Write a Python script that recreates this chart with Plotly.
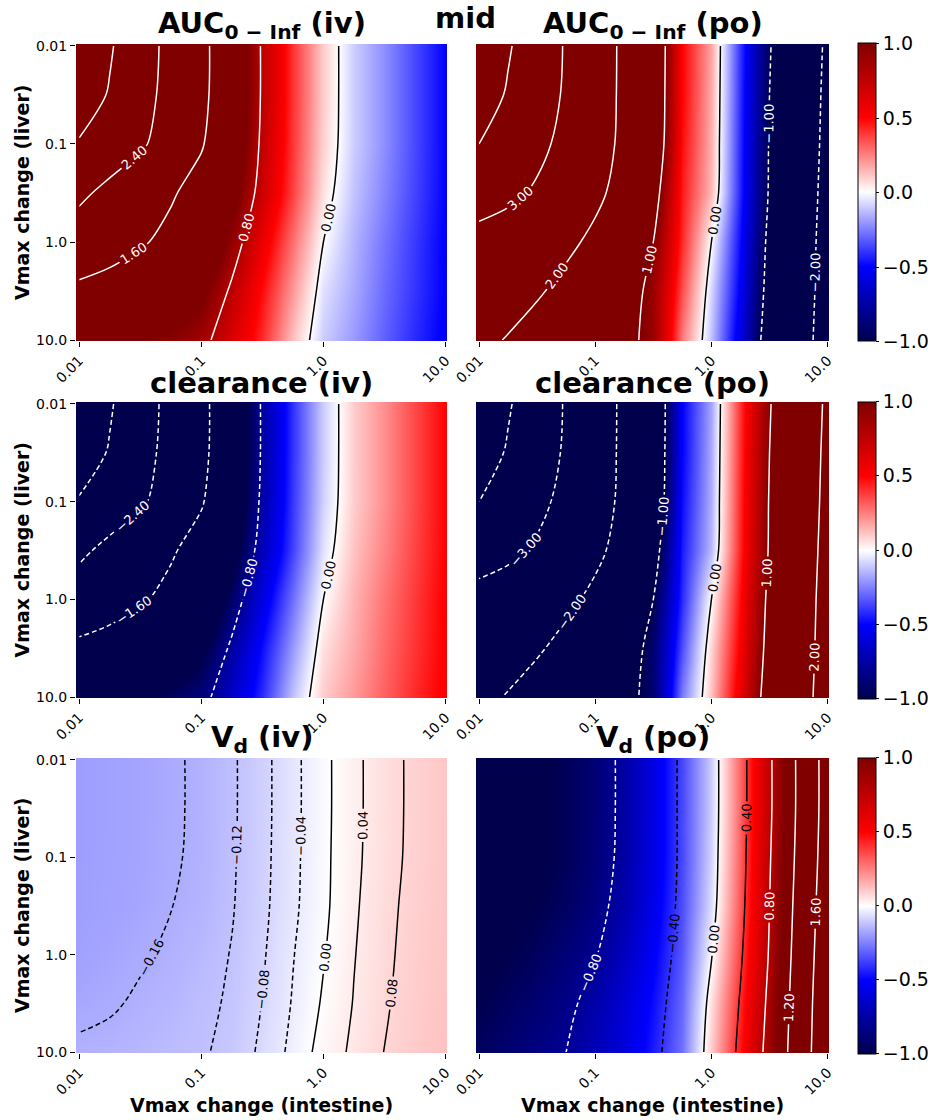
import plotly.graph_objects as go

# ---------------- data (log10 of the Vmax change factors) ----------------
XS = [-2.0, -1.75, -1.5, -1.25, -1.0, -0.75, -0.5, -0.25, 0.0, 0.25, 0.5, 0.75, 1.0]  # intestine
YS = [-2.0, -1.5, -1.0, -0.5, 0.0, 0.5, 1.0]  # liver
TICK_VALS = [-2, -1, 0, 1]
TICK_TEXT = ["0.01", "0.1", "1.0", "10.0"]
CBAR_VALS = [-1.0, -0.5, 0.0, 0.5, 1.0]
CBAR_TEXT = ["\u22121.0", "\u22120.5", "0.0", "0.5", "1.0"]

AUC_IV = [
    [3.8, 3.27, 2.72, 2.2, 1.73, 1.25, 0.77, 0.4, 0.1, -0.1, -0.22, -0.36, -0.5],
    [3.55, 3.15, 2.65, 2.18, 1.72, 1.24, 0.77, 0.4, 0.1, -0.1, -0.22, -0.36, -0.5],
    [3.15, 2.85, 2.5, 2.08, 1.64, 1.2, 0.75, 0.39, 0.09, -0.1, -0.22, -0.36, -0.5],
    [2.55, 2.2, 1.92, 1.65, 1.42, 1.1, 0.7, 0.37, 0.06, -0.12, -0.24, -0.37, -0.5],
    [2.0, 1.82, 1.65, 1.48, 1.3, 0.92, 0.58, 0.28, 0.0, -0.15, -0.27, -0.39, -0.51],
    [1.48, 1.4, 1.3, 1.2, 1.05, 0.76, 0.48, 0.2, -0.06, -0.17, -0.29, -0.4, -0.51],
    [1.1, 1.05, 1.0, 0.95, 0.87, 0.65, 0.42, 0.12, -0.1, -0.2, -0.31, -0.42, -0.52],
]
AUC_PO = [
    [4.66, 4.08, 3.5, 2.93, 2.4, 1.86, 1.35, 0.5, 0.18, -0.4, -0.97, -1.53, -2.1],
    [4.43, 3.92, 3.4, 2.9, 2.4, 1.85, 1.33, 0.5, 0.17, -0.41, -1.0, -1.57, -2.13],
    [4.0, 3.6, 3.2, 2.78, 2.35, 1.83, 1.3, 0.48, 0.16, -0.42, -1.02, -1.58, -2.16],
    [3.34, 3.17, 2.9, 2.6, 2.15, 1.75, 1.15, 0.45, 0.14, -0.43, -1.03, -1.6, -2.2],
    [2.75, 2.6, 2.42, 2.15, 1.85, 1.5, 1.0, 0.42, 0.0, -0.48, -1.08, -1.65, -2.23],
    [2.55, 2.35, 2.08, 1.8, 1.5, 1.18, 0.9, 0.35, -0.08, -0.52, -1.12, -1.68, -2.25],
    [2.2, 1.95, 1.7, 1.45, 1.25, 1.1, 0.9, 0.26, -0.12, -0.58, -1.18, -1.72, -2.28],
]
CL_IV = [
    [-3.8, -3.27, -2.72, -2.2, -1.73, -1.25, -0.77, -0.4, -0.1, 0.1, 0.22, 0.36, 0.5],
    [-3.55, -3.15, -2.65, -2.18, -1.72, -1.24, -0.77, -0.4, -0.1, 0.1, 0.22, 0.36, 0.5],
    [-3.15, -2.85, -2.5, -2.08, -1.64, -1.2, -0.75, -0.39, -0.09, 0.1, 0.22, 0.36, 0.5],
    [-2.55, -2.2, -1.92, -1.65, -1.42, -1.1, -0.7, -0.37, -0.06, 0.12, 0.24, 0.37, 0.5],
    [-2.0, -1.82, -1.65, -1.48, -1.3, -0.92, -0.58, -0.28, 0.0, 0.15, 0.27, 0.39, 0.51],
    [-1.48, -1.4, -1.3, -1.2, -1.05, -0.76, -0.48, -0.2, 0.06, 0.17, 0.29, 0.4, 0.51],
    [-1.1, -1.05, -1.0, -0.95, -0.87, -0.65, -0.42, -0.12, 0.1, 0.2, 0.31, 0.42, 0.52],
]
CL_PO = [
    [-4.66, -4.08, -3.5, -2.93, -2.4, -1.86, -1.35, -0.5, -0.18, 0.4, 0.97, 1.53, 2.1],
    [-4.43, -3.92, -3.4, -2.9, -2.4, -1.85, -1.33, -0.5, -0.17, 0.41, 1.0, 1.57, 2.13],
    [-4.0, -3.6, -3.2, -2.78, -2.35, -1.83, -1.3, -0.48, -0.16, 0.42, 1.02, 1.58, 2.16],
    [-3.34, -3.17, -2.9, -2.6, -2.15, -1.75, -1.15, -0.45, -0.14, 0.43, 1.03, 1.6, 2.2],
    [-2.75, -2.6, -2.42, -2.15, -1.85, -1.5, -1.0, -0.42, 0.0, 0.48, 1.08, 1.65, 2.23],
    [-2.55, -2.35, -2.08, -1.8, -1.5, -1.18, -0.9, -0.35, 0.08, 0.52, 1.12, 1.68, 2.25],
    [-2.2, -1.95, -1.7, -1.45, -1.25, -1.1, -0.9, -0.26, 0.12, 0.58, 1.18, 1.72, 2.28],
]
VD_IV = [
    [-0.19, -0.185, -0.178, -0.166, -0.153, -0.126, -0.093, -0.051, -0.011, 0.03, 0.063, 0.09, 0.11],
    [-0.19, -0.185, -0.178, -0.166, -0.153, -0.126, -0.093, -0.051, -0.011, 0.03, 0.063, 0.09, 0.11],
    [-0.19, -0.184, -0.177, -0.165, -0.152, -0.125, -0.092, -0.05, -0.01, 0.031, 0.064, 0.091, 0.111],
    [-0.19, -0.183, -0.175, -0.161, -0.148, -0.123, -0.09, -0.048, -0.009, 0.034, 0.068, 0.094, 0.113],
    [-0.185, -0.175, -0.165, -0.153, -0.138, -0.118, -0.085, -0.042, -0.003, 0.038, 0.071, 0.097, 0.115],
    [-0.172, -0.165, -0.154, -0.143, -0.129, -0.115, -0.079, -0.037, 0.005, 0.042, 0.075, 0.1, 0.117],
    [-0.152, -0.148, -0.14, -0.132, -0.125, -0.108, -0.071, -0.029, 0.017, 0.048, 0.081, 0.103, 0.12],
]
VD_PO = [
    [-1.12, -1.08, -1.03, -0.97, -0.89, -0.76, -0.58, -0.36, -0.1, 0.3, 0.76, 1.25, 1.75],
    [-1.12, -1.08, -1.03, -0.97, -0.89, -0.76, -0.58, -0.36, -0.1, 0.3, 0.76, 1.25, 1.75],
    [-1.12, -1.08, -1.03, -0.97, -0.885, -0.755, -0.58, -0.36, -0.09, 0.31, 0.78, 1.27, 1.77],
    [-1.1, -1.06, -1.0, -0.94, -0.86, -0.73, -0.56, -0.35, -0.07, 0.33, 0.8, 1.3, 1.8],
    [-1.05, -1.0, -0.95, -0.88, -0.81, -0.68, -0.52, -0.33, -0.01, 0.37, 0.82, 1.33, 1.83],
    [-1.0, -0.95, -0.9, -0.84, -0.74, -0.62, -0.48, -0.3, 0.06, 0.42, 0.86, 1.36, 1.86],
    [-0.95, -0.9, -0.85, -0.8, -0.7, -0.6, -0.45, -0.28, 0.1, 0.46, 0.9, 1.38, 1.88],
]

TITLES = [
    "<b>AUC<sub>0 \u2212 Inf</sub> (iv)</b>", "<b>AUC<sub>0 \u2212 Inf</sub> (po)</b>",
    "<b>clearance (iv)</b>", "<b>clearance (po)</b>",
    "<b>V<sub>d</sub> (iv)</b>", "<b>V<sub>d</sub> (po)</b>",
]
PANELS = [AUC_IV, AUC_PO, CL_IV, CL_PO, VD_IV, VD_PO]

# contour level groups: (start, end, step, line colour, dash)
DASH = "5px,3px"
LEVELS = [
    [(0.8, 3.2, 0.8, "white", "solid"), (0.0, 0.0, 1.0, "black", "solid")],
    [(1.0, 4.0, 1.0, "white", "solid"), (0.0, 0.0, 1.0, "black", "solid"), (-2.0, -1.0, 1.0, "white", DASH)],
    [(-3.2, -0.8, 0.8, "white", DASH), (0.0, 0.0, 1.0, "black", "solid")],
    [(-4.0, -1.0, 1.0, "white", DASH), (0.0, 0.0, 1.0, "black", "solid"), (1.0, 2.0, 1.0, "white", "solid")],
    [(-0.16, -0.04, 0.04, "black", DASH), (0.0, 0.08, 0.04, "black", "solid")],
    [(-0.8, -0.8, 1.0, "white", DASH), (-0.4, -0.4, 1.0, "black", DASH),
     (0.0, 0.4, 0.4, "black", "solid"), (0.8, 1.6, 0.4, "white", "solid")],
]

SEISMIC = [[0.0, "rgb(0,0,77)"], [0.25, "rgb(0,0,255)"], [0.5, "rgb(255,255,255)"],
           [0.75, "rgb(255,0,0)"], [1.0, "rgb(128,0,0)"]]

# ---------------- layout geometry (pixels) ----------------
W, H = 931, 1120
COLS = [(76, 447), (476, 829)]
ROWS = [(44, 341), (402, 698), (758, 1053)]
FONT = "DejaVu Sans"

fig = go.Figure()
layout = dict(
    width=W, height=H, margin=dict(l=0, r=0, t=0, b=0, pad=0, autoexpand=False),
    paper_bgcolor="white", plot_bgcolor="white",
    font=dict(family=FONT, color="black"), showlegend=False,
)
annotations = []

for i, Z in enumerate(PANELS):
    r, c = divmod(i, 2)
    s = "" if i == 0 else str(i + 1)
    x0, x1 = COLS[c]
    y0, y1 = ROWS[r]
    layout["xaxis" + s] = dict(
        domain=[x0 / W, x1 / W], anchor="y" + s, range=[-2.026, 1.012],
        tickvals=TICK_VALS, ticktext=TICK_TEXT, tickangle=-45, automargin=False,
        ticks="outside", ticklen=5, tickwidth=1, tickcolor="black",
        showgrid=False, zeroline=False, showline=False,
        tickfont=dict(size=14, family=FONT, color="black"),
    )
    layout["yaxis" + s] = dict(
        domain=[1 - y1 / H, 1 - y0 / H], anchor="x" + s, range=[1.01, -2.02],
        tickvals=TICK_VALS, ticktext=TICK_TEXT, showticklabels=(c == 0), automargin=False,
        ticks="outside" if c == 0 else "", ticklen=5, tickwidth=1, tickcolor="black",
        showgrid=False, zeroline=False, showline=False,
        tickfont=dict(size=14, family=FONT, color="black"),
    )
    hm = dict(
        x=XS, y=YS, z=Z, colorscale=SEISMIC, zmin=-1, zmax=1, zsmooth="best",
        xaxis="x" + s, yaxis="y" + s, hoverinfo="skip", showscale=(c == 1),
    )
    if c == 1:
        hm["colorbar"] = dict(
            x=858 / W, xanchor="left", xpad=0, ypad=0,
            y=1 - (y0 + y1) / 2 / H, yanchor="middle",
            len=(y1 - y0 + 1) / H, lenmode="fraction",
            thickness=18, thicknessmode="pixels",
            outlinewidth=1, outlinecolor="black",
            tickvals=CBAR_VALS, ticktext=CBAR_TEXT, ticks="outside",
            ticklen=3, tickcolor="black",
            tickfont=dict(size=19, family=FONT, color="black"),
        )
    fig.add_trace(go.Heatmap(**hm))

    for (st, en, sz, col, dash) in LEVELS[i]:
        fig.add_trace(go.Contour(
            x=XS, y=YS, z=Z, autocontour=False,
            contours=dict(start=st, end=en, size=sz, coloring="none",
                          showlabels=True, labelformat=".2f",
                          labelfont=dict(size=13, family=FONT, color=col)),
            line=dict(color=col, width=1.5, dash=dash, smoothing=1),
            showscale=False, hoverinfo="skip", xaxis="x" + s, yaxis="y" + s,
        ))

    # panel title
    annotations.append(dict(
        text=TITLES[i], x=(x0 + x1) / 2 / W, y=1 - (y0 - 19) / H,
        xref="paper", yref="paper", xanchor="center", yanchor="middle",
        showarrow=False, font=dict(size=29, family=FONT, color="black"),
    ))
    if c == 0:
        annotations.append(dict(
            text="<b>Vmax change (liver)</b>", x=21.5 / W, y=1 - (y0 + y1) / 2 / H,
            xref="paper", yref="paper", xanchor="center", yanchor="middle",
            textangle=-90, showarrow=False, font=dict(size=19, family=FONT, color="black"),
        ))
    if r == 2:
        annotations.append(dict(
            text="<b>Vmax change (intestine)</b>", x=(x0 + x1) / 2 / W, y=1 - 1105 / H,
            xref="paper", yref="paper", xanchor="center", yanchor="middle",
            showarrow=False, font=dict(size=19, family=FONT, color="black"),
        ))

annotations.append(dict(
    text="<b>mid</b>", x=465 / W, y=1 - 18 / H, xref="paper", yref="paper",
    xanchor="center", yanchor="middle", showarrow=False,
    font=dict(size=29, family=FONT, color="black"),
))
layout["annotations"] = annotations
fig.update_layout(**layout)
fig.write_html("out.html")
